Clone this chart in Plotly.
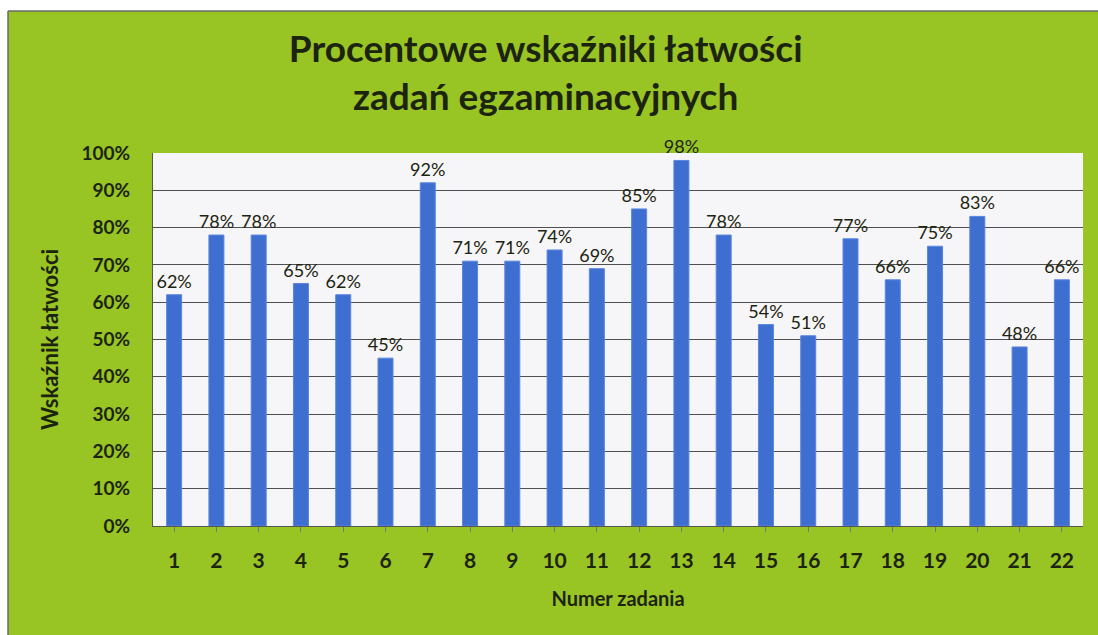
import plotly.graph_objects as go

zadania = [str(i) for i in range(1, 23)]
wskazniki = [62, 78, 78, 65, 62, 45, 92, 71, 71, 74, 69, 85, 98, 78, 54, 51, 77, 66, 75, 83, 48, 66]
etykiety = [f"{v}%" for v in wskazniki]
wartosci = [v / 100 for v in wskazniki]

GREEN = "#98c424"
DARK = "#1c2410"
FONT = "Lato"

fig = go.Figure(go.Bar(
    x=zadania, y=wartosci, text=etykiety, textposition="outside",
    constraintext="none",
    textfont=dict(family=FONT, size=18, color=DARK),
    marker=dict(color="#3e6fd0", line=dict(color="#5a86de", width=1)),
    cliponaxis=False,
))

fig.update_layout(
    width=1098, height=635,
    margin=dict(l=153, r=15, t=153, b=109),
    paper_bgcolor=GREEN,
    plot_bgcolor="#f6f5f7",
    bargap=0.645,
    showlegend=False,
    title=dict(
        text="Procentowe wskaźniki łatwości<br>zadań egzaminacyjnych",
        x=0.497, xanchor="center", y=1 - 62 / 635, yanchor="middle",
        font=dict(family=FONT, size=37, color=DARK, weight="bold"),
    ),
    font=dict(family=FONT, color=DARK),
)

fig.update_yaxes(
    range=[0, 1], dtick=0.1, tickformat=".0%",
    showgrid=True, gridcolor="#4f4f4f", gridwidth=1,
    showline=True, linecolor="#555555", linewidth=1,
    ticks="", ticklabelstandoff=18,
    tickfont=dict(family=FONT, size=19, color=DARK, weight="bold"),
    title=dict(text="Wskaźnik łatwości", standoff=16,
               font=dict(family=FONT, size=22, color=DARK, weight="bold")),
    zeroline=False,
)
fig.update_xaxes(
    showline=True, linecolor="#555555", linewidth=1,
    ticks="outside", ticklen=5, tickcolor="#777777",
    ticklabelstandoff=11,
    tickfont=dict(family=FONT, size=21, color=DARK, weight="bold"),
    title=dict(text="Numer zadania", standoff=20,
               font=dict(family=FONT, size=20, color=DARK, weight="bold")),
)

# white strips (scan margin) at top and left edges
TOP = (526 - 11) / 373
LEFT = (8 - 153) / 930
fig.add_shape(type="rect", xref="paper", yref="paper",
              x0=-0.2, x1=1.2, y0=TOP, y1=1.6,
              fillcolor="white", line_width=0, layer="above")
fig.add_shape(type="rect", xref="paper", yref="paper",
              x0=-0.2, x1=LEFT, y0=-0.4, y1=1.6,
              fillcolor="white", line_width=0, layer="above")
fig.add_shape(type="line", xref="paper", yref="paper",
              x0=LEFT, x1=1.2, y0=TOP, y1=TOP,
              line=dict(color="#6a6a6a", width=1.5), layer="above")
fig.add_shape(type="line", xref="paper", yref="paper",
              x0=LEFT, x1=LEFT, y0=-0.4, y1=TOP,
              line=dict(color="#6a6a6a", width=1.5), layer="above")

fig.write_html("out.html", config={"displayModeBar": False},
               post_script="document.body.style.margin='0';document.body.style.overflow='hidden';")
